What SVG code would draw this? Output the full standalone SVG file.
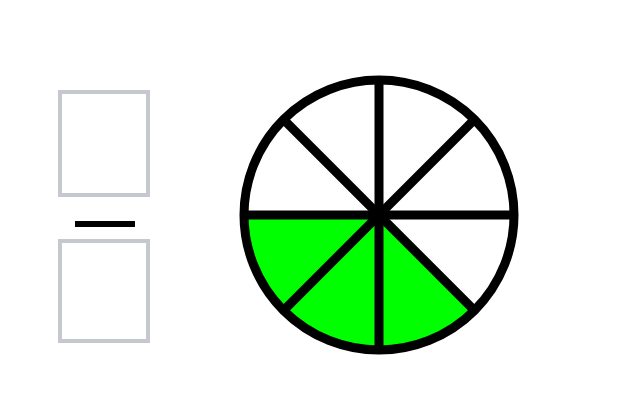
<svg xmlns="http://www.w3.org/2000/svg" width="644" height="413" viewBox="0 0 644 413">
<style>
.box{fill:#ffffff;stroke:#c6c8d0;stroke-width:4}
.spoke{stroke:#000;stroke-width:9;fill:none}
</style>
<rect width="644" height="413" fill="#ffffff"/>
<g id="fraction">
<rect class="box" x="60" y="92" width="88" height="103"/>
<rect x="75" y="221" width="60" height="6" fill="#000"/>
<rect class="box" x="60" y="241" width="88" height="100"/>
</g>
<g id="circle">
<path d="M379,215 L244,215 A135,135 0 0 0 474.46,310.46 Z" fill="#00ff00"/>
<g class="spoke">
<line x1="244" y1="215" x2="514" y2="215"/>
<line x1="379" y1="80" x2="379" y2="350"/>
<line x1="283.54" y1="119.54" x2="474.46" y2="310.46"/>
<line x1="474.46" y1="119.54" x2="283.54" y2="310.46"/>
<circle cx="379" cy="215" r="135"/>
</g>
<circle cx="379" cy="215" r="11" fill="#000"/>
</g>
</svg>
